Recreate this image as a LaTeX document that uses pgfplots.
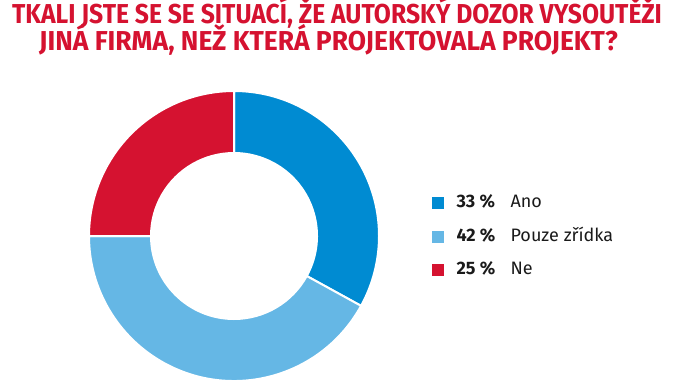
\documentclass[border=0pt]{standalone}
\usepackage{pgfplots}
\usepackage{pgfplotstable}
\pgfplotsset{compat=1.18}
\usepackage{fontspec}
\setmainfont{Fira Sans}
\newfontfamily\titlefont[FakeStretch=0.968]{Fira Sans}
\newfontfamily\titlefontA[FakeStretch=0.903]{Fira Sans}
\definecolor{cblue}{RGB}{0,139,210}
\definecolor{clight}{RGB}{101,183,229}
\definecolor{cred}{RGB}{213,18,48}
\definecolor{ctext}{RGB}{26,26,26}

\pgfplotstableread[col sep=comma]{
value,label,color
33,Ano,cblue
42,Pouze zřídka,clight
25,Ne,cred
}\piedata

\begin{document}
\begin{tikzpicture}
\begin{axis}[
  name=ax,
  scale only axis,
  width=505.5pt, height=285pt,
  xmin=0, xmax=674, ymin=0, ymax=380,
  hide axis,
  clip=false,
  legend style={at={(0.6405,0.4895)}, anchor=north west, draw=none, fill=none,
    inner sep=0pt, outer sep=0pt, row sep=11.6pt, column sep=10pt,
    nodes={inner sep=0pt, text height=10.3pt, text depth=3.2pt, text=ctext,
      font=\fontsize{13.5}{15}\selectfont}},
  legend cell align=left,
]
\pgfplotsextra{
  \gdef\startang{90}
  \foreach \i in {0,1,2}{
    \pgfplotstablegetelem{\i}{value}\of\piedata \let\v\pgfplotsretval
    \pgfplotstablegetelem{\i}{color}\of\piedata \let\c\pgfplotsretval
    \pgfmathsetmacro\endang{\startang-3.6*\v}
    \fill[\c, draw=white, line width=1.5pt] (axis cs:234,144) ++(\startang:108.75pt)
      arc[start angle=\startang, end angle=\endang, radius=108.75pt]
      -- ++(\endang:-46.5pt)
      arc[start angle=\endang, end angle=\startang, radius=62.25pt] -- cycle;
    \xdef\startang{\endang}
  }
}
\addlegendimage{legend image code/.code={\fill[cblue] (0pt,-4.125pt) rectangle (8.25pt,4.125pt);}}
\addlegendentry{\makebox[40.5pt][l]{\textbf{33~\%}}Ano}
\addlegendimage{legend image code/.code={\fill[clight] (0pt,-4.125pt) rectangle (8.25pt,4.125pt);}}
\addlegendentry{\makebox[40.5pt][l]{\textbf{42~\%}}Pouze zřídka}
\addlegendimage{legend image code/.code={\fill[cred] (0pt,-4.125pt) rectangle (8.25pt,4.125pt);}}
\addlegendentry{\makebox[40.5pt][l]{\textbf{25~\%}}Ne}

\node[anchor=base, text=cred, font=\titlefontA\bfseries\fontsize{20.5}{25}\selectfont]
  at (axis cs:337,357) {TKALI JSTE SE SE SITUACÍ, ŽE AUTORSKÝ DOZOR VYSOUTĚŽI};
\node[anchor=base, text=cred, font=\titlefont\bfseries\fontsize{20.5}{25}\selectfont]
  at (axis cs:328.5,329.3) {JINÁ FIRMA, NEŽ KTERÁ PROJEKTOVALA PROJEKT?};
\end{axis}
\pgfresetboundingbox
\useasboundingbox (ax.south west) rectangle (ax.north east);
\end{tikzpicture}
\end{document}
